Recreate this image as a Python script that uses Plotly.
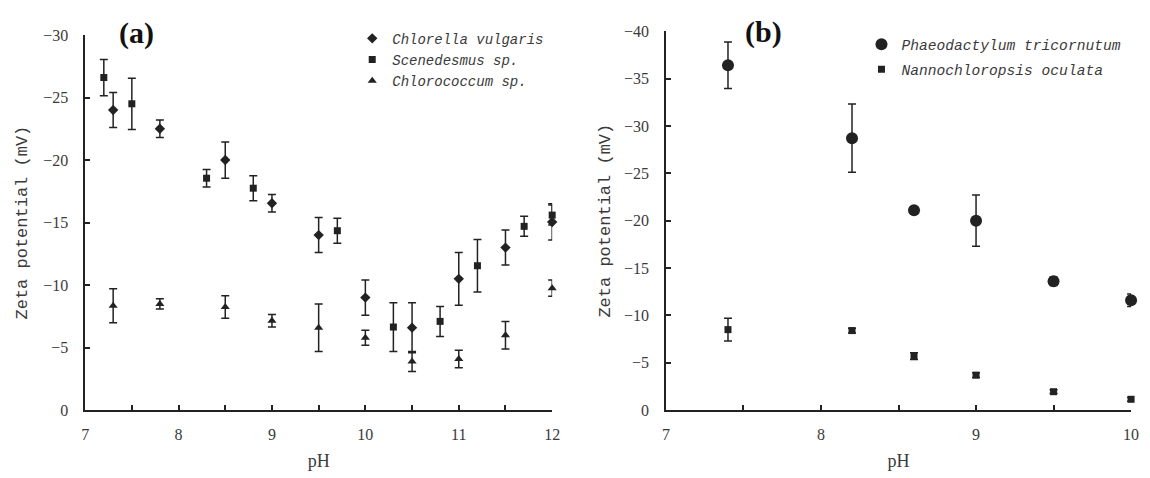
import plotly.graph_objects as go

# ---- panel (a): green microalgae ----
chl_ph = [7.3, 7.8, 8.5, 9.0, 9.5, 10.0, 10.5, 11.0, 11.5, 12.0]
chl_zeta = [-24.0, -22.5, -20.0, -16.55, -14.0, -9.0, -6.6, -10.5, -13.0, -15.05]
chl_err = [1.4, 0.7, 1.45, 0.7, 1.4, 1.4, 2.0, 2.1, 1.4, 1.45]

sce_ph = [7.2, 7.5, 8.3, 8.8, 9.7, 10.3, 10.8, 11.2, 11.7, 12.0]
sce_zeta = [-26.6, -24.5, -18.55, -17.75, -14.35, -6.65, -7.1, -11.55, -14.7, -15.6]
sce_err = [1.45, 2.05, 0.7, 1.0, 1.0, 1.95, 1.2, 2.1, 0.8, 0.8]

cco_ph = [7.3, 7.8, 8.5, 9.0, 9.5, 10.0, 10.5, 11.0, 11.5, 12.0]
cco_zeta = [-8.35, -8.5, -8.25, -7.15, -6.6, -5.8, -3.9, -4.1, -6.0, -9.75]
cco_err = [1.35, 0.4, 0.9, 0.5, 1.9, 0.6, 0.8, 0.7, 1.1, 0.65]

# ---- panel (b): marine microalgae ----
pha_ph = [7.4, 8.2, 8.6, 9.0, 9.5, 10.0]
pha_zeta = [-36.4, -28.7, -21.1, -20.0, -13.6, -11.6]
pha_err = [2.45, 3.6, 0.0, 2.7, 0.45, 0.65]

nan_ph = [7.4, 8.2, 8.6, 9.0, 9.5, 10.0]
nan_zeta = [-8.5, -8.4, -5.7, -3.7, -1.95, -1.15]
nan_err = [1.2, 0.25, 0.35, 0.25, 0.2, 0.2]

INK = "#222222"
TXT = "#3a3a3a"
MONO = "Liberation Mono, Courier New, monospace"
SERIF = "Liberation Serif, Times New Roman, serif"


def err(vals):
    return dict(type="data", array=vals, visible=True, color=INK,
                thickness=1.5, width=4)


fig = go.Figure()

fig.add_trace(go.Scatter(
    x=chl_ph, y=chl_zeta, error_y=err(chl_err), mode="markers",
    name="<i>Chlorella vulgaris</i>", legend="legend", legendgroup="a1",
    marker=dict(symbol="diamond", size=8, color=INK), cliponaxis=False,
    xaxis="x", yaxis="y"))
fig.add_trace(go.Scatter(
    x=sce_ph, y=sce_zeta, error_y=err(sce_err), mode="markers",
    name="<i>Scenedesmus sp.</i>", legend="legend", legendgroup="a2",
    marker=dict(symbol="square", size=7, color=INK), cliponaxis=False,
    xaxis="x", yaxis="y"))
fig.add_trace(go.Scatter(
    x=cco_ph, y=cco_zeta, error_y=err(cco_err), mode="markers",
    name="<i>Chlorococcum sp.</i>", legend="legend", legendgroup="a3",
    marker=dict(symbol="triangle-up", size=8, color=INK), cliponaxis=False,
    xaxis="x", yaxis="y"))

fig.add_trace(go.Scatter(
    x=pha_ph, y=pha_zeta, error_y=err(pha_err), mode="markers",
    name="<i>Phaeodactylum tricornutum</i>", legend="legend2", legendgroup="b1",
    marker=dict(symbol="circle", size=12, color=INK), cliponaxis=False,
    xaxis="x2", yaxis="y2"))
fig.add_trace(go.Scatter(
    x=nan_ph, y=nan_zeta, error_y=err(nan_err), mode="markers",
    name="<i>Nannochloropsis oculata</i>", legend="legend2", legendgroup="b2",
    marker=dict(symbol="square", size=7, color=INK), cliponaxis=False,
    xaxis="x2", yaxis="y2"))

tick_font = dict(family=SERIF, size=16, color=TXT)
title_font = dict(family=MONO, size=17, color=TXT)


def xaxis(domain, rng, anchor):
    return dict(domain=domain, range=rng, anchor=anchor, dtick=1,
                showline=True, linecolor=INK, linewidth=1.5, mirror=False,
                showgrid=False, zeroline=False,
                ticks="inside", ticklen=5, tickwidth=1.5, tickcolor=INK,
                minor=dict(dtick=0.5, ticks="inside", ticklen=5,
                           tickwidth=1.5, tickcolor=INK, showgrid=False),
                tickfont=tick_font, ticklabelstandoff=9,
                title=dict(text="pH", font=dict(family=SERIF, size=18, color=TXT),
                           standoff=12))


def yaxis(domain, rng, anchor, standoff):
    return dict(domain=domain, range=rng, anchor=anchor, dtick=5,
                showline=True, linecolor=INK, linewidth=1.5, mirror=False,
                showgrid=False, zeroline=False,
                ticks="inside", ticklen=5, tickwidth=1.5, tickcolor=INK,
                tickfont=tick_font, ticklabelstandoff=12,
                title=dict(text="Zeta potential (mV)", font=title_font,
                           standoff=standoff))


fig.update_layout(
    width=1150, height=478,
    margin=dict(l=0, r=0, t=0, b=0),
    paper_bgcolor="white", plot_bgcolor="white",
    xaxis=xaxis([0.0713, 0.4817], [7, 12], "y"),
    yaxis=yaxis([0.1276, 0.9414], [0, -30], "x", 11),
    xaxis2=xaxis([0.5817, 0.9904], [7, 10], "y2"),
    yaxis2=yaxis([0.1276, 0.9498], [0, -40], "x2", 9),
    legend=dict(x=0.306, y=0.968, xanchor="left", yanchor="top",
                bgcolor="rgba(0,0,0,0)", tracegroupgap=0,
                traceorder="grouped",
                font=dict(family=MONO, size=14, color=TXT)),
    legend2=dict(x=0.7535, y=0.956, xanchor="left", yanchor="top",
                 bgcolor="rgba(0,0,0,0)", tracegroupgap=3,
                 traceorder="grouped",
                 font=dict(family=MONO, size=14.6, color=TXT)),
    annotations=[
        dict(text="<b>(a)</b>", xref="paper", yref="paper",
             x=134 / 1150, y=1 - 26 / 478, xanchor="center", yanchor="middle",
             showarrow=False, font=dict(family=SERIF, size=30, color="#111")),
        dict(text="<b>(b)</b>", xref="paper", yref="paper",
             x=768 / 1150, y=1 - 25 / 478, xanchor="center", yanchor="middle",
             showarrow=False, font=dict(family=SERIF, size=30, color="#111")),
    ],
)

fig.write_html("out.html")
